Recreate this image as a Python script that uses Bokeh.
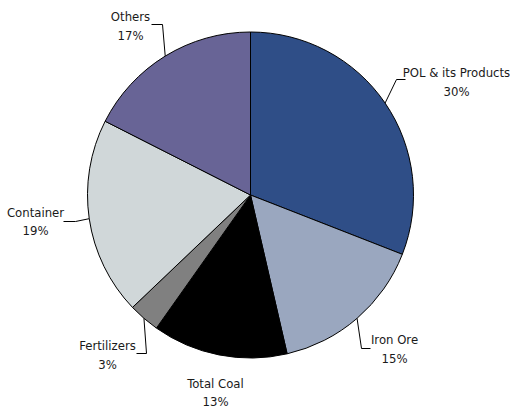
import math
from bokeh.plotting import figure
from bokeh.models import Range1d, ColumnDataSource
from bokeh.core.properties import value
from bokeh.embed import file_html
from bokeh.resources import INLINE

# Cargo mix shares (%)
categories = ["POL & its Products", "Iron Ore", "Total Coal", "Fertilizers", "Container", "Others"]
shares = [30, 15, 13, 3, 19, 17]
colors = ["#2F4E87", "#9AA7BF", "#000000", "#808080", "#D0D7D9", "#686496"]

W, H = 510, 409
CX, CY, R = 250, 194.5, 163  # pie centre / radius in page pixels (y down)


def fy(y):
    """page y (downwards) -> plot y (upwards)"""
    return H - y


# label layout: (label centre x, first line y, second line y, elbow, end of leader)
layout = {
    "POL & its Products": (456, 72, 91, (396, 79), (405, 79)),
    "Iron Ore": (394, 339, 358, (361, 348), (370, 348)),
    "Total Coal": (215, 383, 401, None, None),
    "Fertilizers": (107, 345, 364, (146, 353), (136, 353)),
    "Container": (35, 212, 230, (75, 221), (63, 221)),
    "Others": (130, 16, 35, (162, 24), (151, 24)),
}

total = float(sum(shares))
starts, ends, mids = [], [], []
acc = 0.0
for v in shares:
    a0 = acc / total
    acc += v
    a1 = acc / total
    starts.append(math.pi / 2 - 2 * math.pi * a0)
    ends.append(math.pi / 2 - 2 * math.pi * a1)
    mids.append(2 * math.pi * (a0 + a1) / 2)  # clockwise from 12 o'clock

src = ColumnDataSource(dict(cat=categories, start=starts, end=ends, color=colors))

p = figure(width=W, height=H, output_backend="svg", toolbar_location=None,
           x_range=Range1d(0, W), y_range=Range1d(0, H), min_border=0)
p.axis.visible = False
p.grid.visible = False
p.outline_line_color = None
p.background_fill_color = "white"
p.border_fill_color = "white"

p.wedge(x=CX, y=fy(CY), radius=R, start_angle="start", end_angle="end",
        direction="clock", fill_color="color", line_color="black",
        line_width=1, source=src)

font = value("'DejaVu Sans Condensed', Roboto, sans-serif")
for cat, v, m in zip(categories, shares, mids):
    lx, y1, y2, elbow, end = layout[cat]
    if elbow is not None:
        ex = CX + R * math.sin(m)
        ey = CY - R * math.cos(m)
        p.line([ex, elbow[0], end[0]], [fy(ey), fy(elbow[1]), fy(end[1])],
               line_color="black", line_width=1)
    p.text(x=[lx], y=[fy(y1)], text=[cat], text_font=font, text_font_size="13px",
           text_align="center", text_baseline="middle", text_color="#1a1a1a")
    p.text(x=[lx], y=[fy(y2)], text=[f"{v}%"], text_font=font, text_font_size="13px",
           text_align="center", text_baseline="middle", text_color="#1a1a1a")

open("out.html", "w").write(file_html(p, INLINE))
